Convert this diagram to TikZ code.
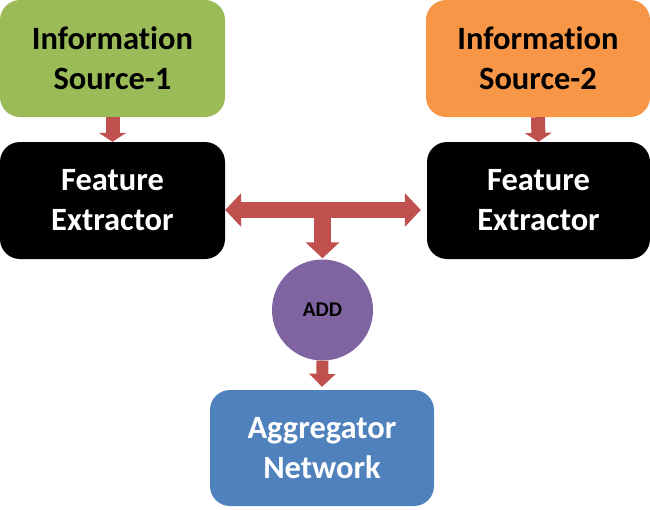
\documentclass[tikz,border=0pt]{standalone}
\usepackage{fontspec}
\setmainfont{Carlito}[Ligatures={NoCommon}]
\usetikzlibrary{arrows.meta,calc}
\definecolor{cgreen}{HTML}{9BBB59}
\definecolor{corange}{HTML}{F79646}
\definecolor{cpurple}{HTML}{8064A2}
\definecolor{cblue}{HTML}{4F81BD}
\definecolor{cred}{HTML}{C0504D}
\tikzset{
  box/.style={rounded corners=20pt, minimum width=225pt, minimum height=117pt,
    inner sep=0pt, align=center, font=\fontsize{32.5}{40}\selectfont\bfseries},
  conn/.style={draw=cred, color=cred},
}
\begin{document}
\begin{tikzpicture}[x=1pt,y=-1pt]
\useasboundingbox (0,0) rectangle (650,509);
\node[box, fill=cgreen, text=black] (src1) at (112.5,58.5) {Information\\Source-1};
\node[box, fill=corange, text=black, minimum width=224pt] (src2) at (538,58.5) {Information\\Source-2};
\node[box, fill=black, text=white] (fe1) at (112.5,200.5) {Feature\\Extractor};
\node[box, fill=black, text=white, minimum width=223pt] (fe2) at (538.5,200.5) {Feature\\Extractor};
\node[circle, fill=cpurple, minimum size=101pt, inner sep=0pt, font=\fontsize{21}{24}\selectfont\bfseries] (add) at (322.5,310) {ADD};
\node[box, fill=cblue, text=white, minimum width=224pt, minimum height=116pt] (agg) at (322,448) {Aggregator\\Network};
\coordinate (j) at (322.5,210);
\draw[conn, line width=14pt, -{Triangle[width=27pt,length=9pt]}] (src1.south) -- (fe1.north);
\draw[conn, line width=14pt, -{Triangle[width=27pt,length=9pt]}] (src2.south) -- (fe2.north);
\draw[conn, line width=16pt, {Triangle[width=33pt,length=16pt]}-{Triangle[width=33pt,length=16pt]}] (fe1.east |- j) -- ([xshift=-6pt]fe2.west |- j);
\draw[conn, line width=17pt, -{Triangle[width=33pt,length=16pt]}] (j) -- ([yshift=1pt]add.north);
\draw[conn, line width=12pt, -{Triangle[width=26pt,length=13pt]}] (add.south) -- ([yshift=3pt]agg.north);
\end{tikzpicture}
\end{document}
